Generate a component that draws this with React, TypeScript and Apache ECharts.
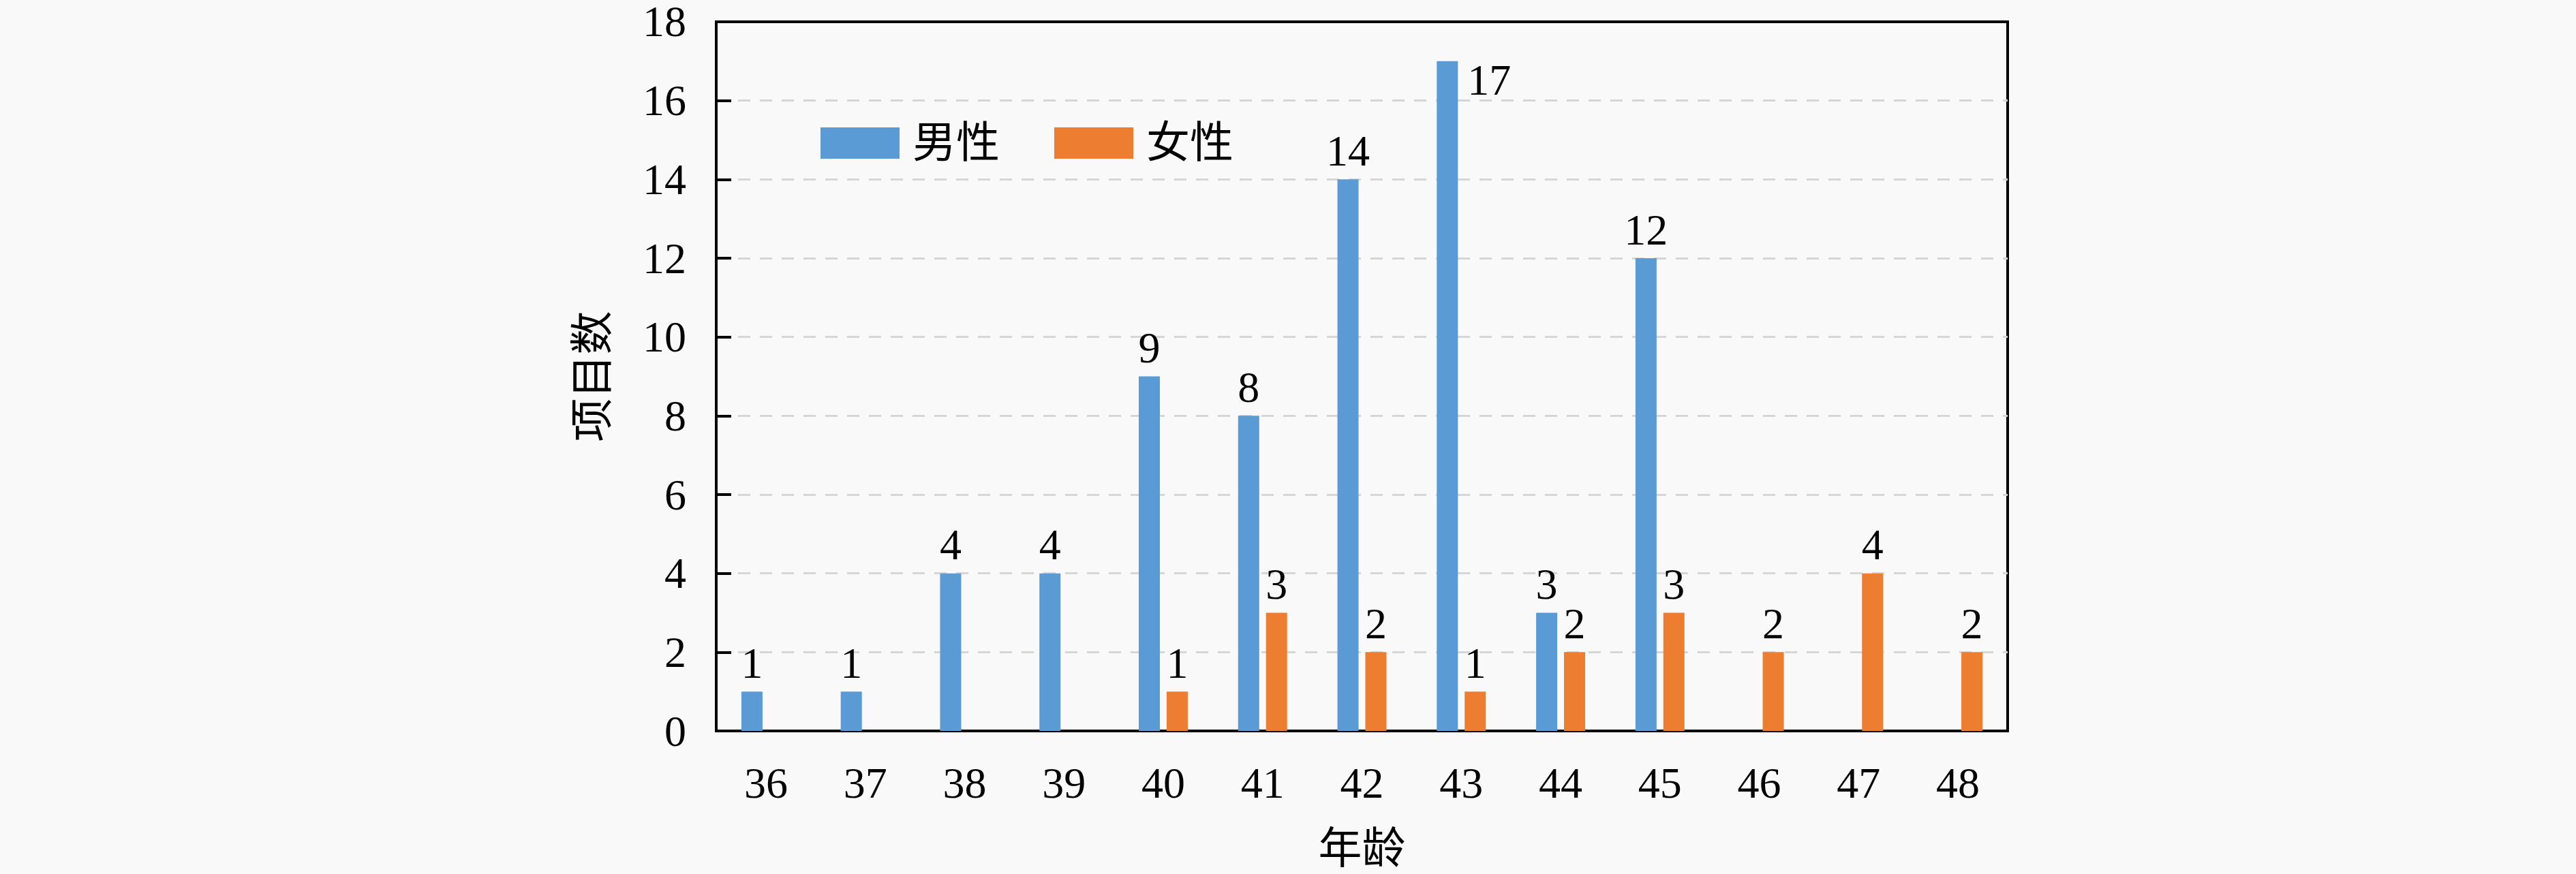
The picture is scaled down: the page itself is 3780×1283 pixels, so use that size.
import React, { useEffect, useRef } from "react";
import * as echarts from "echarts";

const categories = ["36", "37", "38", "39", "40", "41", "42", "43", "44", "45", "46", "47", "48"];
const maleValues = [1, 1, 4, 4, 9, 8, 14, 17, 3, 12, 0, 0, 0];
const femaleValues = [0, 0, 0, 0, 1, 3, 2, 1, 2, 3, 2, 4, 2];
const seriesNames = ["男性", "女性"];
const xAxisName = "年龄";
const yAxisName = "项目数";

const FONT = "'Liberation Serif', 'DejaVu Serif', 'Noto Sans CJK SC', serif";
const FS = 64;

export default function App() {
  const ref = useRef<HTMLDivElement>(null);
  useEffect(() => {
    document.body.style.margin = "0";
    const chart = echarts.init(ref.current!, null, { renderer: "svg" });
    const maxIdx = maleValues.indexOf(Math.max(...maleValues));
    const labelFmt = (p: any) => (p.value === 0 ? "" : String(p.value));
    chart.setOption({
      animation: false,
      backgroundColor: "#f9f9f9",
      textStyle: { fontFamily: FONT },
      grid: {
        left: 1051,
        right: 834,
        top: 31,
        bottom: 210,
        show: true,
        borderColor: "#000",
        borderWidth: 4,
      },
      legend: {
        left: 1199,
        top: 173,
        itemWidth: 116,
        itemHeight: 46,
        itemGap: 80,
        icon: "rect",
        textStyle: { fontSize: FS, color: "#000", fontFamily: FONT, padding: [0, 0, 0, 14] },
        data: seriesNames,
      },
      xAxis: {
        type: "category",
        data: categories,
        name: xAxisName,
        nameLocation: "middle",
        nameGap: 140,
        nameTextStyle: { fontSize: FS, color: "#000", fontFamily: FONT },
        axisLine: { lineStyle: { color: "#000", width: 4 } },
        axisTick: { inside: true, length: 20, interval: 0, lineStyle: { color: "#000", width: 4 } },
        axisLabel: { fontSize: FS, color: "#000", margin: 44, fontFamily: FONT },
        splitLine: { show: false },
      },
      yAxis: {
        type: "value",
        min: 0,
        max: 18,
        interval: 2,
        name: yAxisName,
        nameLocation: "middle",
        nameRotate: 90,
        nameGap: 150,
        nameTextStyle: { fontSize: FS, color: "#000", fontFamily: FONT },
        axisLine: { show: true, lineStyle: { color: "#000", width: 4 } },
        axisTick: { show: true, inside: true, length: 22, lineStyle: { color: "#000", width: 4 } },
        axisLabel: { fontSize: FS, lineHeight: 54, color: "#000", margin: 44, fontFamily: FONT },
        splitLine: {
          show: true,
          showMinLine: false,
          showMaxLine: false,
          lineStyle: { color: "#d6d6d6", width: 3, type: [18, 14] },
        },
      },
      series: [
        {
          name: seriesNames[0],
          type: "bar",
          barWidth: 31,
          barGap: "32%",
          itemStyle: { color: "#5b9bd5" },
          label: {
            show: true,
            position: "top",
            distance: 10,
            fontSize: FS,
            color: "#000",
            fontFamily: FONT,
            formatter: labelFmt,
          },
          data: maleValues.map((v, i) =>
            i === maxIdx
              ? {
                  value: v,
                  label: {
                    position: ["100%", 0],
                    offset: [14, -4],
                    align: "left",
                    verticalAlign: "top",
                  },
                }
              : v
          ),
        },
        {
          name: seriesNames[1],
          type: "bar",
          barWidth: 31,
          barGap: "32%",
          itemStyle: { color: "#ed7d31" },
          label: {
            show: true,
            position: "top",
            distance: 10,
            fontSize: FS,
            color: "#000",
            fontFamily: FONT,
            formatter: labelFmt,
          },
          data: femaleValues,
        },
      ],
    });
    return () => chart.dispose();
  }, []);
  return <div ref={ref} style={{ width: 3780, height: 1283 }} />;
}
